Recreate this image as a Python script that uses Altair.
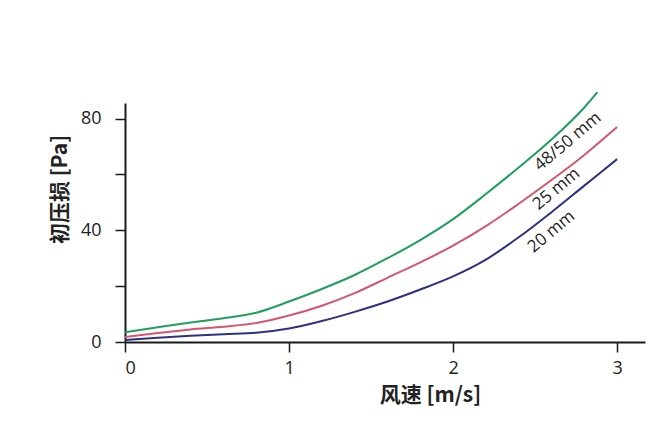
import altair as alt
import pandas as pd

x_vals = [0, 0.2, 0.4, 0.6, 0.8, 1.0, 1.2, 1.4, 1.6, 1.8, 2.0, 2.2, 2.4, 2.6, 2.8, 3.0]
green_x = [0, 0.2, 0.4, 0.6, 0.8, 1.0, 1.2, 1.4, 1.6, 1.8, 2.0, 2.2, 2.4, 2.6, 2.8, 2.88]
green_y = [3.5, 5.3, 7.0, 8.5, 10.5, 14.5, 19.0, 24.0, 30.0, 36.5, 44.0, 53.0, 62.5, 72.5, 84.0, 89.5]
red_y = [1.8, 3.2, 4.5, 5.5, 6.8, 9.5, 13.0, 17.5, 23.0, 28.5, 34.5, 41.5, 49.5, 58.0, 67.0, 77.0]
blue_y = [0.7, 1.5, 2.2, 2.8, 3.3, 4.8, 7.5, 10.8, 14.5, 18.8, 23.5, 29.5, 37.5, 46.5, 56.0, 65.5]

series = ["48/50 mm", "25 mm", "20 mm"]
colors = ["#1f9e5e", "#d4566f", "#2e3180"]

label_text = ["48/50  mm", "25 mm", "20 mm"]
label_x = [2.70, 2.63, 2.60]
label_y = [71.8, 54.8, 39.5]

rows = []
for xv, yv in zip(green_x, green_y):
    rows.append({"x": xv, "y": yv, "s": series[0]})
for xv, yv in zip(x_vals, red_y):
    rows.append({"x": xv, "y": yv, "s": series[1]})
for xv, yv in zip(x_vals, blue_y):
    rows.append({"x": xv, "y": yv, "s": series[2]})
df = pd.DataFrame(rows)

lab = pd.DataFrame({"x": label_x, "y": label_y, "t": label_text, "s": series})

xs = alt.Scale(domain=[0, 3.17], nice=False)
ys = alt.Scale(domain=[0, 85.6], nice=False)
cs = alt.Scale(domain=series, range=colors)

lines = alt.Chart(df).mark_line(strokeWidth=2, clip=False, interpolate="monotone").encode(
    x=alt.X("x:Q", scale=xs, axis=alt.Axis(
        title="风速 [m/s]", values=[0, 1, 2, 3], format="d",
        titleX=305, titleY=63, titleAlign="center", titleBaseline="bottom")),
    y=alt.Y("y:Q", scale=ys, axis=alt.Axis(
        title="初压损 [Pa]", values=[0, 20, 40, 60, 80],
        labelExpr="datum.value % 40 == 0 ? datum.label : ''",
        titleX=-55, titleY=86, titleAngle=270, titleAlign="center", titleBaseline="bottom")),
    color=alt.Color("s:N", scale=cs, legend=None),
    detail="s:N",
)

labels = alt.Chart(lab).mark_text(angle=320, fontSize=17, font="Open Sans", color="#222222",
                                  align="center", baseline="middle").encode(
    x=alt.X("x:Q", scale=xs),
    y=alt.Y("y:Q", scale=ys),
    text="t:N",
)

chart = (lines + labels).properties(
    width=520, height=239,
    autosize=alt.AutoSizeParams(type="none"),
    padding={"left": 117, "top": 95, "right": 10, "bottom": 70},
).configure_view(stroke=None).configure_axis(
    grid=False, domainColor="#1a1a1a", domainWidth=2, tickColor="#1a1a1a", tickWidth=1.5,
    tickSize=10, labelFont="Open Sans", labelFontSize=18, labelColor="#222222",
    titleFont="Noto Sans CJK SC", titleFontSize=21, titleFontWeight="bold", titleColor="#222222",
).configure_axisY(labelPadding=14).configure_axisX(labelPadding=7)

chart.save("out.html", embed_options={"renderer": "svg", "actions": False})
